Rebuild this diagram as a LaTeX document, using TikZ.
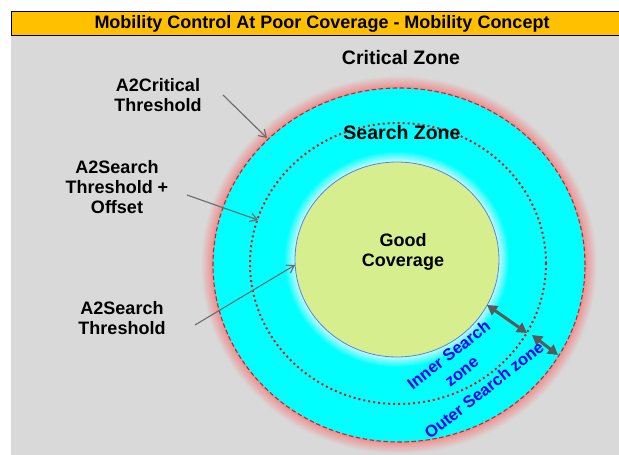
\documentclass[tikz,border=0pt]{standalone}
\usepackage{fontspec}
\setmainfont{Liberation Sans}
\usetikzlibrary{arrows.meta,positioning}
\definecolor{bggray}{RGB}{217,217,217}
\definecolor{titlebar}{RGB}{255,192,0}
\definecolor{zonecyan}{RGB}{0,255,255}
\definecolor{goodgreen}{RGB}{215,238,143}
\definecolor{glowpink}{RGB}{240,140,140}
\definecolor{glowpale}{RGB}{205,248,255}
\definecolor{edgeblue}{RGB}{80,135,230}
\definecolor{arrowgray}{RGB}{89,89,89}
\definecolor{zonered}{RGB}{225,25,25}

\begin{document}
\begin{tikzpicture}[x=1pt,y=1pt,
every node/.style={font=\bfseries\fontsize{18}{20}\selectfont,align=center,inner sep=0pt},
pointer/.style={draw=arrowgray!90,line width=1.1pt,-{Straight Barb[length=7pt,width=9pt]}},
span/.style={draw=arrowgray,line width=3pt,{Triangle[length=10pt,width=11pt]}-{Triangle[length=10pt,width=11pt]}},
zonetext/.style={text=blue,font=\bfseries\fontsize{16.5}{21}\selectfont,rotate=38}]
\useasboundingbox (0,0) rectangle (619,455);
\clip (0,0) rectangle (619,455);
\fill[bggray] (11,0) rectangle (619,419);
\draw[fill=titlebar,line width=1pt] (11,419) rectangle (640,443);
\node (title) at (322,431) {Mobility Control At Poor Coverage - Mobility Concept};

\foreach \g in {12,11,...,1}{
  \pgfmathtruncatemacro\mix{100-\g*8}
  \fill[glowpink!\mix!bggray] (399,190) ellipse [x radius=186+\g,y radius=177+\g];
}
\fill[zonecyan] (399,190) ellipse [x radius=186,y radius=177];
\foreach \g in {11,10,...,1}{
  \pgfmathtruncatemacro\mix{100-\g*9}
  \fill[glowpale!\mix!zonecyan] (397,195.5) ellipse [x radius=102+\g,y radius=97.5+\g];
}
\draw[edgeblue,fill=goodgreen,line width=0.8pt] (397,195.5) ellipse [x radius=102,y radius=97.5];
\draw[zonered,line width=2pt,dash pattern=on 2pt off 3pt] (398,191.5) ellipse [x radius=148,y radius=140.5];
\draw[zonered,line width=1.1pt,dash pattern=on 4.5pt off 2.5pt] (399,190) ellipse [x radius=186,y radius=177];

\node[font=\bfseries\fontsize{19.5}{22}\selectfont] (critzone) at (401,397) {Critical Zone};
\node[font=\bfseries\fontsize{19.5}{22}\selectfont] (searchzone) at (402,322) {Search Zone};
\node (goodcov) at (403,203) {Good\\Coverage};

\node (critlbl) at (158,360) {A2Critical\\Threshold};
\node (offlbl) at (117,268) {A2Search\\Threshold +\\Offset};
\node (searchlbl) at (122,137) {A2Search\\Threshold};

\coordinate (critfrom) at (223,360);
\coordinate (critpt) at (267,317);
\coordinate (offfrom) at (187,260);
\coordinate (offpt) at (258,235);
\coordinate (searchfrom) at (195,130);
\coordinate (searchpt) at (295,190);
\draw[pointer] (critfrom) -- (critpt);
\draw[pointer] (offfrom) -- (offpt);
\draw[pointer] (searchfrom) -- (searchpt);

\coordinate (goodedge) at (487,150);
\coordinate (offin) at (527,122);
\coordinate (offout) at (532,120);
\coordinate (critedge) at (558,100);
\draw[span] (goodedge) -- (offin);
\draw[span] (offout) -- (critedge);

\node[zonetext] (innerzone) at (455,92) {Inner Search\\zone};
\node[zonetext] (outerzone) at (484,65) {Outer Search zone};
\end{tikzpicture}
\end{document}
